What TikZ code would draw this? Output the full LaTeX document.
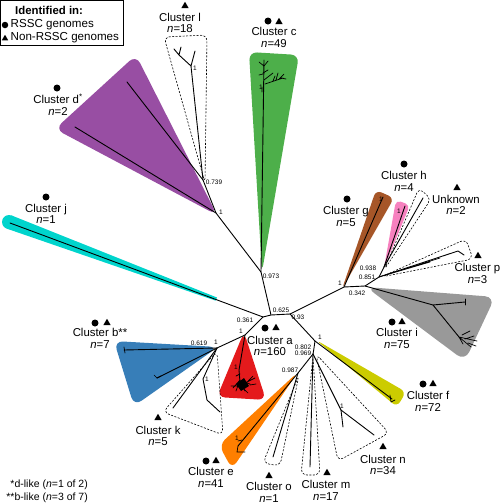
\documentclass[tikz,border=0pt]{standalone}
\usepackage{fontspec}
\setmainfont{Liberation Sans}
\usetikzlibrary{shapes.geometric}
\definecolor{cpurple}{RGB}{152,78,163}
\definecolor{cgreen}{RGB}{77,175,74}
\definecolor{ccyan}{RGB}{0,212,204}
\definecolor{cblue}{RGB}{55,126,184}
\definecolor{cred}{RGB}{228,26,28}
\definecolor{corange}{RGB}{255,127,0}
\definecolor{cyellow}{RGB}{204,204,0}
\definecolor{cbrown}{RGB}{166,86,40}
\definecolor{cpink}{RGB}{247,129,191}
\definecolor{cgray}{RGB}{153,153,153}
\begin{document}
\begin{tikzpicture}[x=1pt,y=-1pt,
  br/.style={line width=0.9pt,line cap=round,line join=round},
  tw/.style={line width=0.7pt,line cap=round},
  dsh/.style={line width=0.6pt,dash pattern=on 2pt off 1.5pt,rounded corners=6pt},
  cl/.style={font=\fontsize{11.4}{11.6}\selectfont,align=center,inner sep=0pt},
  bl/.style={font=\fontsize{6.5}{7}\selectfont,inner sep=0pt},
  dotm/.style={circle,fill,inner sep=0pt,minimum size=7pt},
  trim/.style={regular polygon,regular polygon sides=3,fill,inner sep=0pt,minimum size=8.5pt}]
\useasboundingbox (0,0) rectangle (500,504);

% ---- tree coordinates
\coordinate (C1) at (263,317);
\coordinate (C2) at (271,315);
\coordinate (C3) at (290,314);
\coordinate (N973) at (261,272);
\coordinate (D1) at (216,213);
\coordinate (N739) at (203,180);
\coordinate (L1) at (191,66);
\coordinate (A1) at (245,335);
\coordinate (B1) at (217,348);
\coordinate (K1) at (203,379);
\coordinate (F1) at (315,341);
\coordinate (N802) at (314,348);
\coordinate (N969) at (313,354);
\coordinate (N987) at (298,373);
\coordinate (Nn) at (341,410);
\coordinate (G1) at (344,287);
\coordinate (I1) at (365,286);
\coordinate (N851) at (379,277);
\coordinate (N938) at (384,267);
\coordinate (Ni) at (433,305);
\coordinate (Ni2) at (459,337);
\coordinate (cj) at (10,223);
\coordinate (pd1) at (127,82);
\coordinate (pd2) at (75,127);
\coordinate (gtop) at (264,60);
\coordinate (b1) at (124,350);
\coordinate (b2) at (157,378);
\coordinate (k0) at (173,408);
\coordinate (k2) at (207,400);
\coordinate (k3) at (220,412);
\coordinate (f1) at (392,399);
\coordinate (e1) at (238,446);
\coordinate (o1) at (273,457);
\coordinate (m1) at (310,467);
\coordinate (n1) at (343,427);
\coordinate (n2) at (374,435);
\coordinate (g1) at (383,197);
\coordinate (h1) at (405,206);
\coordinate (u1) at (423,198);
\coordinate (p1) at (458,251);
\coordinate (i1) at (465,302);

% ---- coloured wedges
\fill[cpurple,rounded corners=9pt] (217,215) -- (136,55) -- (55,129) -- cycle;
\fill[cgreen,rounded corners=8pt] (262,272) -- (249,52) -- (299,55) -- cycle;
\fill[ccyan] (9,222) circle (7pt);
\fill[ccyan] (11.4,215.4) -- (217,297.5) -- (215.5,300.6) -- (6.6,228.6) -- cycle;
\fill[cblue,rounded corners=9pt] (218,347) -- (114,341) -- (134,406) -- cycle;
\fill[cred,rounded corners=8pt] (244,332) -- (217,397) -- (266,400) -- cycle;
\fill[corange,rounded corners=8pt] (298,372) -- (219,445) -- (232,469) -- cycle;
\fill[cyellow,rounded corners=6pt] (316,340) -- (406,392) -- (397,407) -- cycle;
\fill[cbrown,rounded corners=6pt] (342,289) -- (376,190) -- (394,198) -- cycle;
\fill[cpink,rounded corners=5pt] (384,268) -- (396,200) -- (410,205) -- cycle;
\fill[cgray,rounded corners=10pt] (366,287) -- (495,297) -- (465,361) -- cycle;

% ---- dashed outlines
\draw[dsh] (205,183) -- (164,37) -- (207,35) -- cycle;
\draw[dsh] (217,351) -- (163,412) -- (223,435) -- cycle;
\draw[dsh] (299,375) -- (280,466) -- (263,463) -- cycle;
\draw[dsh] (313,356) -- (320,475) -- (301,475) -- cycle;
\draw[dsh] (316,354) -- (389,433) -- (338,461) -- cycle;
\draw[dsh] (381,277) -- (466,239) -- (473,259) -- cycle;
\draw[dsh,rounded corners=5pt] (384,270) -- (419,188) -- (431,199) -- cycle;

% ---- branches
\draw[br] (cj) -- (C1) -- (C2) -- (C3);
\draw[br] (C2) -- (N973) -- (D1) -- (N739) -- (L1);
\draw[br] (D1) -- (pd2);
\draw[br] (N739) -- (pd1);
\draw[br] (L1) -- (179,55) -- (174,49) (179,55) -- (181,47) (L1) -- (195,51);
\draw[br] (N973) -- (gtop);
\draw[tw] (264,66) -- (259,62) (264,66) -- (268,61) (263,73) -- (268,70) (263,74) -- (259,75)
  (264,80) -- (273,73) (265,84) -- (283,78) (276,80) -- (278,73) (279,79) -- (284,74)
  (281,78) -- (286,79) (273,81) -- (275,76) (262,87) -- (262,92);
\draw[br] (C1) -- (A1) -- (B1);
\draw[br] (A1) -- (239,370) -- (240,382);
\draw[tw] (240,380) -- (233,388) (240,380) -- (236,391) (240,382) -- (245,391) (240,381) -- (250,384)
  (245,383) -- (255,378) (248,381) -- (253,376) (238,386) -- (231,386) (243,388) -- (248,393)
  (236,376) -- (240,374) (250,385) -- (256,384);
\fill (236,384) -- (244,378) -- (249,386) -- (241,391) -- cycle;
\draw[br] (B1) -- (b1);
\draw[tw] (124,347) -- (125,353);
\draw[br] (B1) -- (b2);
\draw[tw] (157,378) -- (154,375) (157,378) -- (161,376);
\draw[br] (B1) -- (k0);
\draw[br] (B1) -- (K1) -- (k2) -- (k3);
\draw[br] (C3) -- (F1) -- (N802) -- (N969);
\draw[br] (F1) -- (f1);
\draw[tw] (390,395) -- (391,402) (391,402) -- (395,400);
\draw[br] (N969) -- (N987) -- (e1);
\draw[tw] (e1) -- (237,452) -- (245,452) (238,441) -- (242,440);
\draw[br] (N987) -- (o1);
\draw[br] (N969) -- (m1);
\draw[br] (N969) -- (Nn) -- (n1);
\draw[br] (Nn) -- (n2);
\draw[br] (C3) -- (G1) -- (I1) -- (N851) -- (N938);
\draw[br] (G1) -- (g1);
\draw[br] (N938) -- (h1);
\draw[br] (N938) -- (u1);
\draw[br] (N851) -- (p1) -- (464,255);
\draw[tw] (N851) -- (440,258) (N851) -- (430,262);
\draw[br] (I1) -- (Ni) -- (i1);
\draw[tw] (465,299) -- (465,305);
\draw[br] (Ni) -- (Ni2);
\draw[tw] (Ni2) -- (477,341) (Ni2) -- (471,347) (Ni2) -- (463,344) (462,335) -- (470,331)
  (465,339) -- (474,336) (468,343) -- (476,346);

% ---- branch support values
\node[bl] (v361) at (245,320) {0.361};
\node[bl] (v625) at (281,310) {0.625};
\node[bl] (v93) at (298,317) {0.93};
\node[bl] (va1) at (241,331) {1};
\node[bl] (v619) at (199,343) {0.619};
\node[bl] (vb1) at (216,342) {1};
\node[bl] (vk1) at (207,379) {1};
\node[bl] (v973) at (271,276) {0.973};
\node[bl] (vd1) at (221,212) {1};
\node[bl] (v739) at (214,182) {0.739};
\node[bl] (vl1) at (195,68) {1};
\node[bl] (vf1) at (320,337) {1};
\node[bl] (v802) at (303,347) {0.802};
\node[bl] (v969) at (303,353) {0.969};
\node[bl] (v987) at (290,370) {0.987};
\node[bl] (vg1) at (340,283) {1};
\node[bl] (v342) at (357,293) {0.342};
\node[bl] (v851) at (367,277) {0.851};
\node[bl] (v938) at (368,268) {0.938};
\node[bl] (vbr) at (381,199) {1};
\node[bl] (vpk) at (399,211) {1};
\node[bl] (vn1) at (342,406) {1};
\node[bl] (vred) at (236,367) {1};
\node[bl] (vor) at (237,438) {1};
\node[bl] (vgr) at (261,87) {1};

% ---- cluster labels
\node[trim] (tl) at (185,6) {};
\node[cl] (Ll) at (180,23) {Cluster l\\{\itshape n}=18};
\node[dotm] (dc) at (268,21) {};
\node[trim] (tc) at (279,22) {};
\node[cl] (Lc) at (274,37.5) {Cluster c\\{\itshape n}=49};
\node[dotm] (dd) at (57,88) {};
\node[cl] (Ld) at (58,104.5) {Cluster d\textsuperscript{*}\\{\itshape n}=2};
\node[dotm] (dj) at (46,197) {};
\node[cl] (Lj) at (46,214) {Cluster j\\{\itshape n}=1};
\node[dotm] (db) at (95,323) {};
\node[trim] (tb) at (107,323) {};
\node[cl] (Lb) at (100,338.5) {Cluster b**\\{\itshape n}=7};
\node[trim] (tk) at (158,418) {};
\node[cl] (Lk) at (158,436) {Cluster k\\{\itshape n}=5};
\node[dotm] (de) at (206,461) {};
\node[trim] (te) at (216,461) {};
\node[cl] (Le) at (211,477.5) {Cluster e\\{\itshape n}=41};
\node[dotm] (da) at (265,328) {};
\node[trim] (ta) at (276,328) {};
\node[cl] (La) at (270,346) {Cluster a\\{\itshape n}=160};
\node[dotm] (di) at (392,322) {};
\node[trim] (ti) at (402,322) {};
\node[cl] (Li) at (397,338.5) {Cluster i\\{\itshape n}=75};
\node[dotm] (df) at (423,384) {};
\node[trim] (tf) at (433,384) {};
\node[cl] (Lf) at (428,401.5) {Cluster f\\{\itshape n}=72};
\node[trim] (tn) at (383,447) {};
\node[cl] (Ln) at (383,465) {Cluster n\\{\itshape n}=34};
\node[trim] (tm) at (327,473) {};
\node[cl] (Lm) at (326,490.5) {Cluster m\\{\itshape n}=17};
\node[trim] (to) at (269,476) {};
\node[cl] (Lo) at (269,492.5) {Cluster o\\{\itshape n}=1};
\node[dotm] (dg) at (347,199) {};
\node[cl] (Lg) at (346,216.5) {Cluster g\\{\itshape n}=5};
\node[dotm] (dh) at (404,164) {};
\node[cl] (Lh) at (404,181.5) {Cluster h\\{\itshape n}=4};
\node[trim] (tu) at (457,188) {};
\node[cl] (Lu) at (456,205) {Unknown\\{\itshape n}=2};
\node[trim] (tp) at (478,256) {};
\node[cl] (Lp) at (477.5,273.5) {Cluster p\\{\itshape n}=3};

% ---- legend
\draw[line width=0.6pt] (0.5,0.5) rectangle (123,45.5);
\node[font=\bfseries\fontsize{11.4}{12}\selectfont,anchor=west,inner sep=0pt] (legt) at (15,10) {Identified in:};
\node[dotm,minimum size=6.5pt] (legc) at (5,25) {};
\node[font=\fontsize{11.6}{12}\selectfont,anchor=west,inner sep=0pt] (legr) at (10.5,25) {RSSC genomes};
\node[trim,minimum size=7.5pt] (legtr) at (5,38.5) {};
\node[font=\fontsize{11.6}{12}\selectfont,anchor=west,inner sep=0pt] (legn) at (10.5,38) {Non-RSSC genomes};

% ---- footnotes
\node[font=\fontsize{10.5}{11}\selectfont,anchor=east,inner sep=0pt] (fn1) at (88,485) {*d-like ({\itshape n}=1 of 2)};
\node[font=\fontsize{10.5}{11}\selectfont,anchor=east,inner sep=0pt] (fn2) at (88,498) {**b-like ({\itshape n}=3 of 7)};
\end{tikzpicture}
\end{document}
